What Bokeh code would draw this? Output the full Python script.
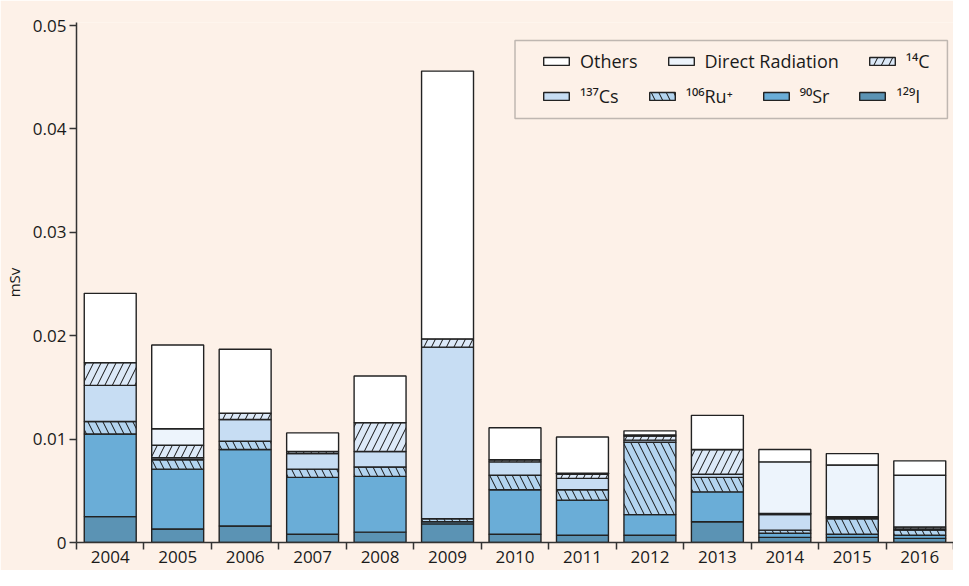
from bokeh.plotting import figure
from bokeh.models import (Range1d, FixedTicker, Legend, LegendItem, BoxAnnotation,
                          ColumnDataSource, CustomJSTickFormatter)
from bokeh.embed import file_html
from bokeh.resources import INLINE

# ---- data (mSv) ----
years = [2004, 2005, 2006, 2007, 2008, 2009, 2010, 2011, 2012, 2013, 2014, 2015, 2016]
i129   = [0.0025, 0.0013, 0.0016, 0.0008, 0.0010, 0.0018, 0.0008, 0.0007, 0.0007, 0.0020, 0.0005, 0.0005, 0.0004]
sr90   = [0.0080, 0.0058, 0.0074, 0.0055, 0.0054, 0.0002, 0.0043, 0.0034, 0.0020, 0.0029, 0.0004, 0.0003, 0.0003]
ru106  = [0.0012, 0.0009, 0.0008, 0.0008, 0.0009, 0.0003, 0.0014, 0.0010, 0.0070, 0.0014, 0.0003, 0.0015, 0.0005]
cs137  = [0.0035, 0.0002, 0.0021, 0.0015, 0.0015, 0.0166, 0.0013, 0.0011, 0.0002, 0.0003, 0.0015, 0.0001, 0.0001]
c14    = [0.0022, 0.0012, 0.0006, 0.0002, 0.0028, 0.0008, 0.0002, 0.0004, 0.0004, 0.0024, 0.0001, 0.0001, 0.0002]
direct = [0.0000, 0.0016, 0.0000, 0.0000, 0.0000, 0.0000, 0.0000, 0.0001, 0.0001, 0.0000, 0.0050, 0.0050, 0.0050]
others = [0.0067, 0.0081, 0.0062, 0.0018, 0.0045, 0.0259, 0.0031, 0.0035, 0.0004, 0.0033, 0.0012, 0.0011, 0.0014]

keys   = ["i129", "sr90", "ru106", "cs137", "c14", "direct", "others"]
labels = ["\u00b9\u00b2\u2079I", "\u2079\u2070Sr", "\u00b9\u2070\u2076Ru\u207a", "\u00b9\u00b3\u2077Cs",
          "\u00b9\u2074C", "Direct Radiation", "Others"]
y_ticks = [0, 0.01, 0.02, 0.03, 0.04, 0.05]

colors  = ["#5b93b4", "#6aadd7", "#b3d4ef", "#c7ddf3", "#dce9f8", "#edf4fc", "#ffffff"]
hatches = [" ", " ", "\\", " ", "/", " ", " "]

BG = "#fdf1e8"
FONT = "Open Sans"
INK = "#1a1a1a"

source = ColumnDataSource(dict(year=years, i129=i129, sr90=sr90, ru106=ru106, cs137=cs137,
                               c14=c14, direct=direct, others=others))

p = figure(width=953, height=570, x_range=Range1d(2003.5, 2016.5), y_range=Range1d(0, 0.0503),
           output_backend="svg", toolbar_location=None,
           min_border_left=76, min_border_right=0, min_border_top=22, min_border_bottom=28)
p.background_fill_color = BG
p.border_fill_color = BG
p.outline_line_color = None
p.xgrid.visible = False
p.ygrid.visible = False

renderers = p.vbar_stack(keys, x="year", width=0.77, source=source,
                         fill_color=colors, line_color="#222222", line_width=1.4,
                         hatch_pattern=hatches, hatch_color="#111111", hatch_weight=1.0,
                         hatch_scale=15)

# axes
xa = p.xaxis[0]
xa.ticker = FixedTicker(ticks=years, minor_ticks=[y - 0.5 for y in years] + [years[-1] + 0.5])
xa.major_tick_out = 0
xa.major_tick_in = 0
xa.minor_tick_out = 7
xa.minor_tick_in = 0
xa.minor_tick_line_color = "#333333"
xa.minor_tick_line_width = 1.5
xa.axis_line_color = "#333333"
xa.axis_line_width = 1.5
xa.major_label_text_font = FONT
xa.major_label_text_font_size = "17px"
xa.major_label_text_color = INK
xa.major_label_standoff = 1

ya = p.yaxis[0]
ya.ticker = FixedTicker(ticks=y_ticks, minor_ticks=[])
ya.formatter = CustomJSTickFormatter(code="return tick == 0 ? '0' : tick.toFixed(2);")
ya.major_tick_out = 7
ya.major_tick_in = 0
ya.minor_tick_out = 0
ya.minor_tick_in = 0
ya.major_tick_line_color = "#333333"
ya.major_tick_line_width = 1.5
ya.axis_line_color = "#333333"
ya.axis_line_width = 1.5
ya.major_label_text_font = FONT
ya.major_label_text_font_size = "17px"
ya.major_label_text_color = INK
ya.major_label_standoff = 3
ya.axis_label = "mSv"
ya.axis_label_text_font = FONT
ya.axis_label_text_font_size = "15px"
ya.axis_label_text_font_style = "normal"
ya.axis_label_text_color = INK
ya.axis_label_standoff = 6

# legend frame
frame = BoxAnnotation(left=2010.0, right=2016.41, top=0.04856, bottom=0.04101,
                      fill_alpha=0, line_color="#333333", line_width=1.5)
p.add_layout(frame)

rmap = dict(zip(keys, renderers))
lmap = dict(zip(keys, labels))
row1 = ["others", "direct", "c14"]
row2 = ["cs137", "ru106", "sr90", "i129"]


def make_legend(row, loc):
    lg = Legend(items=[LegendItem(label=lmap[k], renderers=[rmap[k]]) for k in row],
                orientation="horizontal", location=loc,
                glyph_width=32, glyph_height=10, label_height=23,
                label_standoff=8, spacing=27, padding=0, margin=0,
                label_text_font=FONT, label_text_font_size="18px",
                label_text_color=INK,
                border_line_alpha=0, background_fill_alpha=0)
    return lg


p.add_layout(make_legend(row1, (464, 469)))
p.add_layout(make_legend(row2, (464, 434)))

open("out.html", "w").write(file_html(p, INLINE))
